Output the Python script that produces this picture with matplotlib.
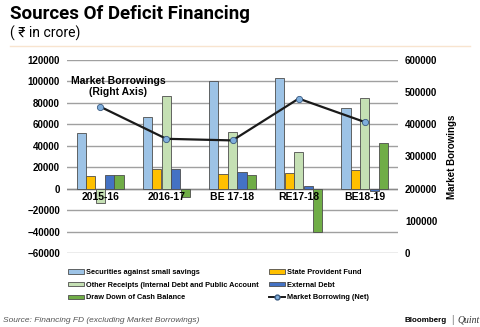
import numpy as np
import matplotlib.pyplot as plt
from matplotlib.patches import Patch
from matplotlib.lines import Line2D

# data (Rs crore)
years = ['2015-16', '2016-17', 'BE 17-18', 'RE17-18', 'BE18-19']
securities = [52000, 67000, 100000, 103000, 75000]
state_pf = [12000, 18000, 14000, 14700, 17000]
other_receipts = [-13000, 86000, 53000, 34500, 85000]
external_debt = [12500, 18000, 16000, 2500, -2500]
cash_drawdown = [13000, -8000, 12500, -40000, 43000]
market_borrowing = [455000, 355000, 350000, 480000, 407000]

series = [securities, state_pf, other_receipts, external_debt, cash_drawdown]
colors = ['#9DC3E6', '#FFC000', '#C5E0B4', '#4472C4', '#70AD47']
names = ['Securities against small savings', 'State Provident Fund',
         'Other Receipts (Internal Debt and Public Account',
         'External Debt', 'Draw Down of Cash Balance']

plt.rcParams['font.family'] = ['Liberation Sans', 'DejaVu Sans']

fig = plt.figure(figsize=(4.8, 3.27), dpi=100)
ax = fig.add_axes([67 / 480, 1 - 253 / 327, 331 / 480, 193 / 327])

x = np.arange(len(years))
w = 0.137
for i, (vals, c) in enumerate(zip(series, colors)):
    ax.bar(x + (i - 2) * (w + 0.006), vals, w, color=c, edgecolor='#4d4d4d',
           linewidth=0.6, zorder=3)

ax.set_ylim(-60000, 120000)
ax.set_xlim(-0.5, len(years) - 0.5)
ax.set_yticks(np.arange(-60000, 120001, 20000))
ax.yaxis.grid(True, color='#a0a0a0', linewidth=1.0, zorder=0)
ax.axhline(0, color='#8a8a8a', linewidth=1.0, zorder=2)
ax.set_xticks([])
ax.tick_params(axis='y', length=0, labelsize=7, pad=5)
for lab in ax.get_yticklabels():
    lab.set_fontweight('bold')
for s in ax.spines.values():
    s.set_visible(False)

for xi, yr in zip(x, years):
    ax.text(xi, -3500, yr, ha='center', va='top', fontsize=7.5,
            fontweight='bold', zorder=5)

ax2 = ax.twinx()
ax2.set_ylim(0, 600000)
ax2.set_yticks(np.arange(0, 600001, 100000))
ax2.tick_params(axis='y', length=0, labelsize=7, pad=5)
for lab in ax2.get_yticklabels():
    lab.set_fontweight('bold')
for s in ax2.spines.values():
    s.set_visible(False)
ax2.plot(x, market_borrowing, color='#1a1a1a', linewidth=1.6, marker='o',
         markersize=4.5, markerfacecolor='#7FAEDC', markeredgecolor='#3a5a80',
         markeredgewidth=0.6, zorder=6)
ax2.set_ylabel('Market Borowings', fontsize=7, fontweight='bold', labelpad=7)

ax.text(0.27, 95000, 'Market Borrowings\n(Right Axis)', ha='center', va='center',
        fontsize=7.5, fontweight='bold', linespacing=1.1, zorder=7)

fig.text(10 / 480, 1 - 14 / 327, 'Sources Of Deficit Financing', fontsize=13.5,
         fontweight='bold', family='Roboto', va='center')
fig.text(10 / 480, 1 - 33 / 327, '( \u20b9 in crore)', fontsize=10,
         family=['Roboto', 'Noto Sans', 'DejaVu Sans'], va='center')
fig.add_artist(Line2D([10 / 480, 470 / 480], [1 - 46 / 327, 1 - 46 / 327],
                      color='#F8E4CF', linewidth=1.0))

edge = dict(edgecolor='#4d4d4d', linewidth=0.6)
left_h = [Patch(facecolor=colors[0], **edge), Patch(facecolor=colors[2], **edge),
          Patch(facecolor=colors[4], **edge)]
right_h = [Patch(facecolor=colors[1], **edge), Patch(facecolor=colors[3], **edge),
           Line2D([], [], color='#1a1a1a', linewidth=1.4, marker='o', markersize=3.5,
                  markerfacecolor='#7FAEDC', markeredgecolor='#3a5a80')]
left_l = [names[0], names[2], names[4]]
right_l = [names[1], names[3], 'Market Borrowing (Net)']
legkw = dict(loc='upper left', frameon=False, fontsize=5.3, handlelength=2.2,
             handleheight=0.6, handletextpad=0.2, labelspacing=0.78,
             borderaxespad=0, borderpad=0)
for h, l, x0 in [(left_h, left_l, 68), (right_h, right_l, 269)]:
    leg = fig.legend(h, l, bbox_to_anchor=(x0 / 480, 1 - 269 / 327), **legkw)
    for t in leg.get_texts():
        t.set_fontweight('bold')

fig.text(3 / 480, 1 - 320 / 327, 'Source: Financing FD (excluding Market Borrowings)',
         fontsize=6, style='italic', color='#555555', va='center')
fig.text(447 / 480, 1 - 320 / 327, 'Bloomberg', fontsize=5.8, fontweight='bold',
         va='center', ha='right')
fig.text(451 / 480, 1 - 320 / 327, '|', fontsize=7, color='#777777',
         va='center', ha='left')
fig.text(457 / 480, 1 - 320 / 327, 'Quint', fontsize=7, style='italic',
         family='Liberation Serif', va='center', ha='left', color='#333333')

fig.savefig('out.png', dpi=100)
